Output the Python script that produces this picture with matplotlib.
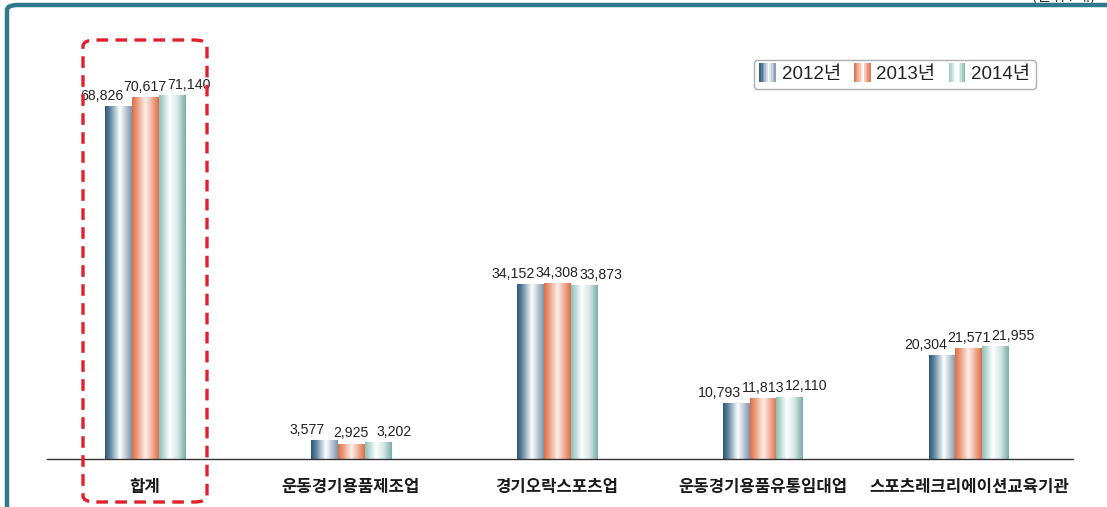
import numpy as np
import matplotlib.pyplot as plt
from matplotlib.patches import FancyBboxPatch, Rectangle
from matplotlib.colors import LinearSegmentedColormap
from matplotlib.legend_handler import HandlerBase

plt.rcParams['font.family'] = ['Noto Sans CJK KR', 'DejaVu Sans']

categories = ['합계', '운동경기용품제조업', '경기오락스포츠업', '운동경기용품유통임대업', '스포츠레크리에이션교육기관']
years = ['2012년', '2013년', '2014년']
v2012 = [68826, 3577, 34152, 10793, 20304]
v2013 = [70617, 2925, 34308, 11813, 21571]
v2014 = [71140, 3202, 33873, 12110, 21955]
series = [v2012, v2013, v2014]

# left edge -> middle -> right edge colour stops for each year's bar
grad_stops = [
    [(0.0, '#2a5878'), (0.18, '#5d84a0'), (0.55, '#ffffff'), (1.0, '#7e94ab')],
    [(0.0, '#dc7048'), (0.2, '#ec9f80'), (0.5, '#fdf0ea'), (1.0, '#df6f47')],
    [(0.0, '#8bc0ba'), (0.4, '#ffffff'), (0.7, '#d4e7e4'), (1.0, '#7aada7')],
]
cmaps = [LinearSegmentedColormap.from_list('g%d' % i, s) for i, s in enumerate(grad_stops)]
grad = np.linspace(0, 1, 64).reshape(1, -1)

num_font = ['Liberation Sans', 'DejaVu Sans']

W, H = 1107, 507
fig = plt.figure(figsize=(W / 100, H / 100), dpi=100)
ax = fig.add_axes([47 / W, 48 / H, (1073 - 47) / W, (459 - 5) / H])

x = np.arange(len(categories))
bw = 0.131
label_shift = [-0.08, 0.0, 0.08]
for i, vals in enumerate(series):
    xs = x + (i - 1) * bw
    for xc, v in zip(xs, vals):
        ax.imshow(grad, cmap=cmaps[i], aspect='auto', interpolation='bicubic',
                  extent=(xc - bw / 2, xc + bw / 2, 0, v), zorder=2)
        ax.text(xc + label_shift[i], v + 700, f'{v:,}', ha='center', va='bottom',
                fontsize=10.2, family=num_font, color='#222222', zorder=3)

ax.set_xlim(-0.476, 4.505)
ax.set_ylim(0, 88760)
for s in ['top', 'right', 'left']:
    ax.spines[s].set_visible(False)
ax.spines['bottom'].set_color('#333333')
ax.spines['bottom'].set_linewidth(1.0)
ax.set_yticks([])
ax.set_xticks(x)
ax.set_xticklabels(categories, fontsize=12, fontweight='bold', color='#1a1a1a')
ax.tick_params(axis='x', length=0, pad=14)


class GradHandler(HandlerBase):
    def __init__(self, cmap):
        super().__init__()
        self.cmap = cmap

    def create_artists(self, legend, orig, xd, yd, width, height, fontsize, trans):
        arts = []
        n = 10
        sw = width / n
        for k in range(n):
            c = self.cmap((k + 0.5) / n)
            if k == n // 2:
                c = '#ffffff'
            arts.append(Rectangle((xd + k * sw, yd - 2), sw, height + 4,
                                  facecolor=c, edgecolor='none', transform=trans))
        return arts


handles = [Rectangle((0, 0), 1, 1) for _ in years]
leg = ax.legend(handles, years, ncol=3, loc='upper right',
                bbox_to_anchor=(1045 / W, 1 - 51 / H), bbox_transform=fig.transFigure,
                handler_map={h: GradHandler(c) for h, c in zip(handles, cmaps)},
                handlelength=0.9, handletextpad=0.3, columnspacing=0.7,
                prop={'family': ['Liberation Sans', 'Noto Sans CJK KR'], 'size': 13.5},
                frameon=True, fancybox=True, borderpad=0.3)
leg.get_frame().set_edgecolor('#9a9a9a')
leg.get_frame().set_linewidth(1.0)
for t in leg.get_texts():
    t.set_color('#222222')

# highlight box around the total group
hl = FancyBboxPatch((83 / W, 5 / H), 124 / W, 462 / H, transform=fig.transFigure,
                    boxstyle='round,pad=0,rounding_size=0.012', fill=False,
                    edgecolor='#e2202c', linewidth=2.4, linestyle=(0, (3.5, 2.2)),
                    zorder=5)
fig.patches.append(hl)

# outer frame (top and left edges)
frame = FancyBboxPatch((7 / W, -0.1), 1.2, (H - 5) / H + 0.1, transform=fig.transFigure,
                       boxstyle='round,pad=0,rounding_size=0.01', fill=False,
                       edgecolor='#2e7a8c', linewidth=3.2, zorder=6)
fig.patches.append(frame)

fig.text(1095 / W, 1 - 1 / H, '(단위 : 개)', ha='right', va='baseline', fontsize=11,
         color='#333333')

fig.savefig('out.png', dpi=100)
